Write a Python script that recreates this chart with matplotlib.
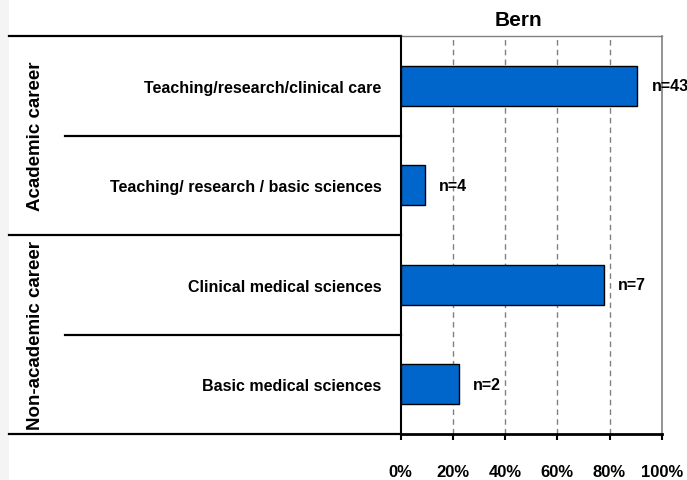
import matplotlib
matplotlib.use("Agg")
import matplotlib.pyplot as plt
from matplotlib.patches import Rectangle
from matplotlib.lines import Line2D
import matplotlib.transforms as mtransforms

plt.rcParams['font.family'] = ['Liberation Sans', 'DejaVu Sans']

title = "Bern"
categories = ["Teaching/research/clinical care",
              "Teaching/ research / basic sciences",
              "Clinical medical sciences",
              "Basic medical sciences"]
values = [90.6, 9.2, 77.8, 22.2]
n_labels = ["n=43", "n=4", "n=7", "n=2"]
groups = ["Academic career", "Non-academic career"]
group_rows = [(0, 1), (2, 3)]
xticks = [0, 20, 40, 60, 80, 100]
xticklabels = ["0%", "20%", "40%", "60%", "80%", "100%"]

W, H = 687, 481
fig = plt.figure(figsize=(W / 100, H / 100), dpi=100)
fig.patch.set_facecolor("white")
fig.patches.append(Rectangle((0, 0), 9 / W, 1, transform=fig.transFigure,
                             facecolor="#f4f4f4", edgecolor="none", zorder=0))

x0, x1 = 400.7, 661.7
y_top, y_bot = 37, 435
ax = fig.add_axes([x0 / W, 1 - y_bot / H, (x1 - x0) / W, (y_bot - y_top) / H])

ypos = list(range(len(categories)))
ax.barh(ypos, values, height=0.4, color="#0066cc", edgecolor="black",
        linewidth=1.0, zorder=3)
ax.set_xlim(0, 100)
ax.set_ylim(len(categories) - 0.5, -0.5)

for y, v, lab in zip(ypos, values, n_labels):
    ax.annotate(lab, (v, y), xytext=(10.5, 0), textcoords="offset points",
                va="center", ha="left", fontsize=11.5, fontweight="bold",
                annotation_clip=False, zorder=4)

ax.set_xticks(xticks)
ax.set_xticklabels(xticklabels, fontsize=12, fontweight="bold")
ax.tick_params(axis="x", length=4, width=1.5, pad=17.5, direction="out")
ax.set_yticks(ypos)
ax.set_yticklabels(categories, fontsize=11.5, fontweight="bold")
ax.tick_params(axis="y", length=0, pad=14)

for t in xticks[1:-1]:
    ax.axvline(t, color="#808080", linestyle=(0, (4, 3)), linewidth=1.0, zorder=1)

ax.spines["left"].set_color("black")
ax.spines["left"].set_linewidth(1.5)
ax.spines["bottom"].set_color("black")
ax.spines["bottom"].set_linewidth(2.0)
ax.spines["top"].set_color("#808080")
ax.spines["top"].set_linewidth(1.0)
ax.spines["right"].set_color("#808080")
ax.spines["right"].set_linewidth(1.2)

# table lines to the left of the plot area
trans = mtransforms.blended_transform_factory(fig.transFigure, ax.transData)
xl_full = 9 / W
xl_inner = 65 / W
xr = x0 / W
boundaries_full = [-0.5, 1.5, 3.5]
boundaries_inner = [0.5, 2.5]
for b in boundaries_full:
    fig.add_artist(Line2D([xl_full, xr], [b, b], transform=trans,
                          color="black", linewidth=1.6))
for b in boundaries_inner:
    fig.add_artist(Line2D([xl_inner, xr], [b, b], transform=trans,
                          color="black", linewidth=1.6))

for g, (r0, r1) in zip(groups, group_rows):
    yc = (r0 + r1) / 2
    fig.text(36 / W, yc, g, transform=trans, rotation=90, ha="center",
             va="center", fontsize=13.5, fontweight="bold")

fig.text(518 / W, 1 - 20 / H, title, ha="center", va="center",
         fontsize=15, fontweight="bold")

fig.savefig("out.png", dpi=100)
